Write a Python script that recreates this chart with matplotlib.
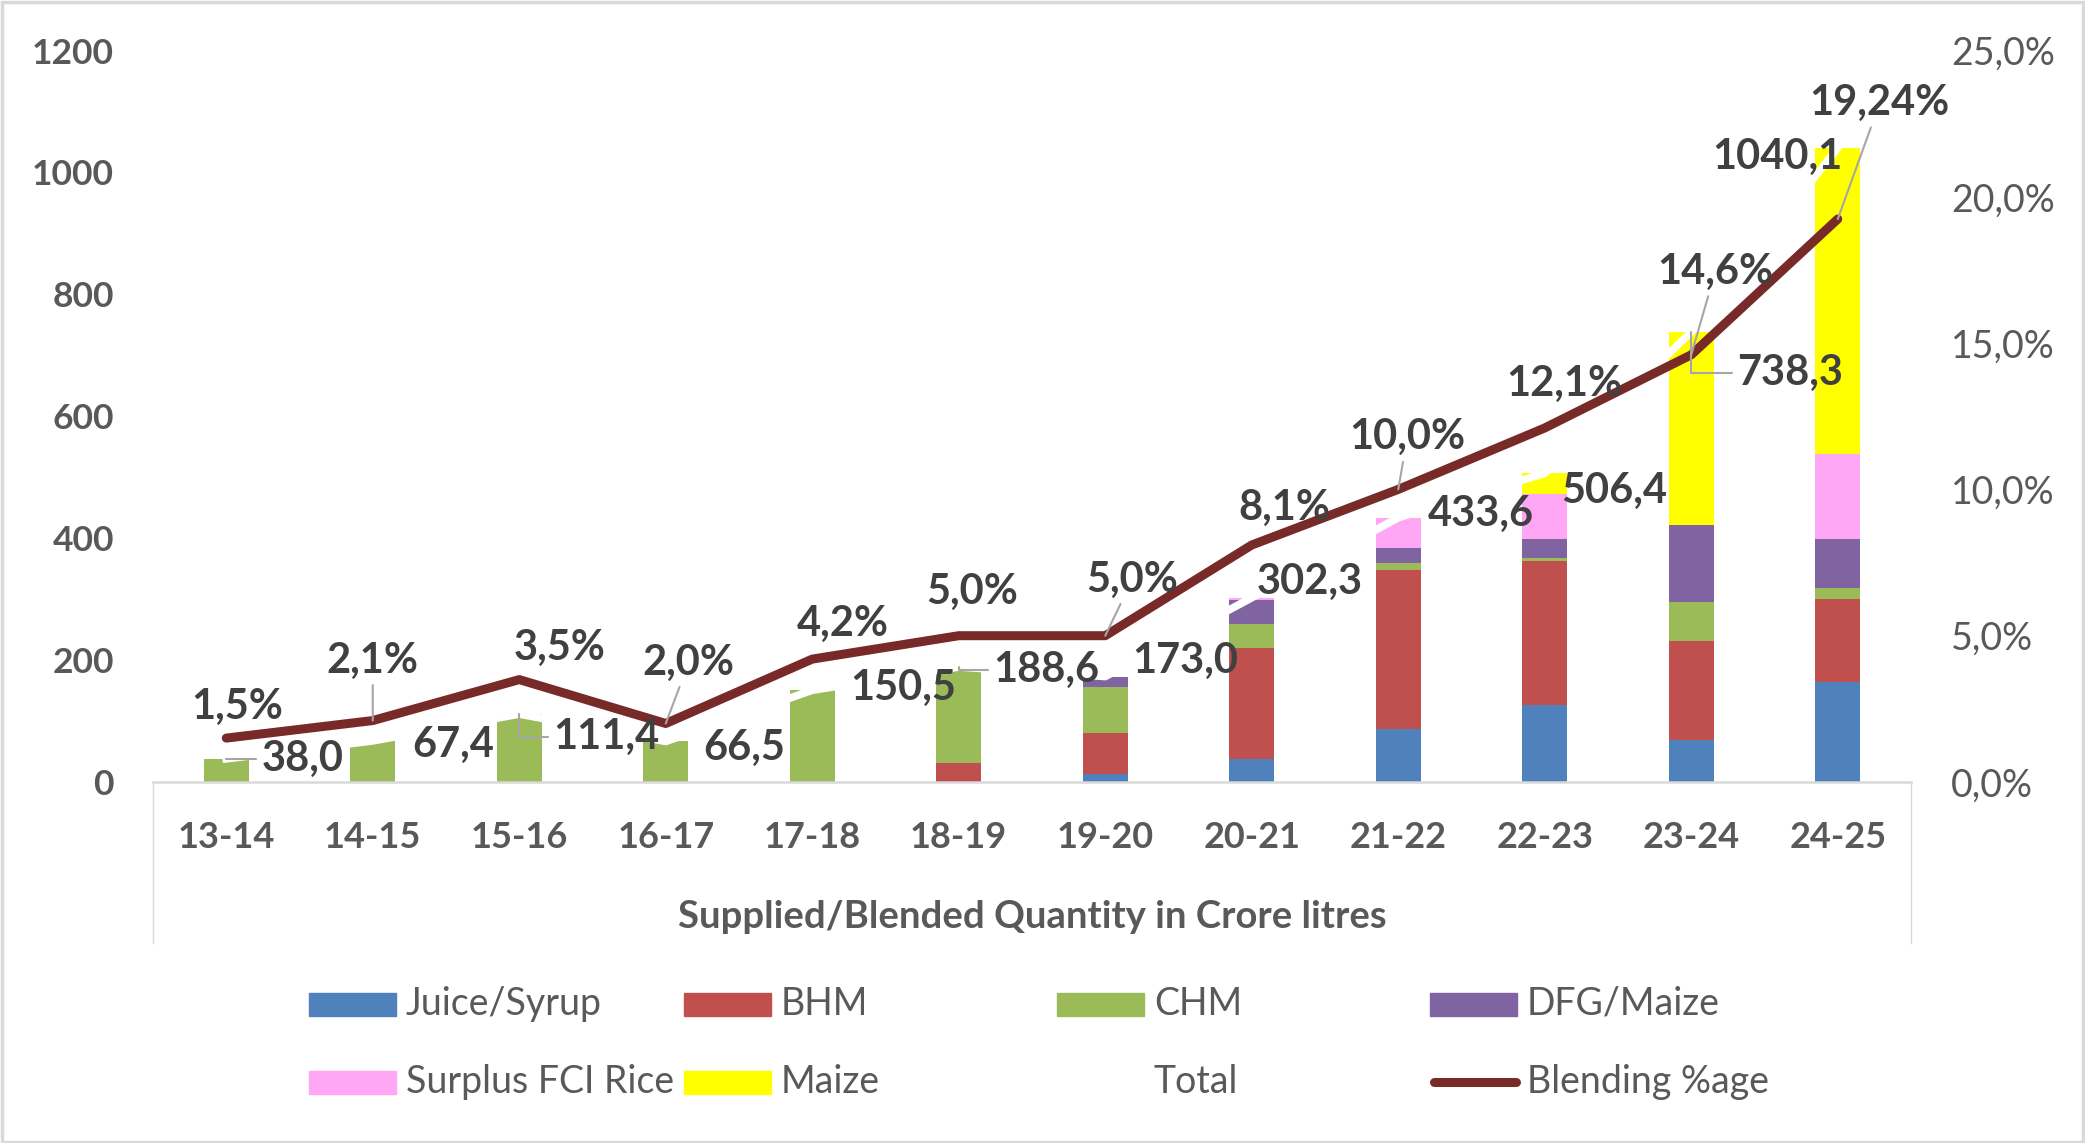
import matplotlib
matplotlib.use("Agg")
import matplotlib.pyplot as plt
import numpy as np
from matplotlib.lines import Line2D
from matplotlib.patches import Rectangle

plt.rcParams["font.family"] = ["Lato", "DejaVu Sans"]

years = ["13-14", "14-15", "15-16", "16-17", "17-18", "18-19",
         "19-20", "20-21", "21-22", "22-23", "23-24", "24-25"]

juice_syrup = [0, 0, 0, 0, 0, 0, 13.5, 38, 87, 126, 69, 164]
bhm = [0, 0, 0, 0, 0, 31, 67, 182, 260, 236, 162, 137]
chm = [38.0, 67.4, 111.4, 66.5, 150.5, 156, 75.5, 39, 12, 5, 64, 18]
dfg_maize = [0, 0, 0, 0, 0, 1.6, 17, 40, 25, 31, 126, 80]
fci_rice = [0, 0, 0, 0, 0, 0, 0, 3.3, 49.6, 74, 0, 139]
maize = [0, 0, 0, 0, 0, 0, 0, 0, 0, 34.4, 317.3, 502.1]
totals = [38.0, 67.4, 111.4, 66.5, 150.5, 188.6, 173.0, 302.3, 433.6, 506.4, 738.3, 1040.1]
blending_pct = [1.5, 2.1, 3.5, 2.0, 4.2, 5.0, 5.0, 8.1, 10.0, 12.1, 14.6, 19.24]

series = [
    ("Juice/Syrup", juice_syrup, "#4f81bd"),
    ("BHM", bhm, "#c0504d"),
    ("CHM", chm, "#9bbb59"),
    ("DFG/Maize", dfg_maize, "#8064a2"),
    ("Surplus FCI Rice", fci_rice, "#ffa7f5"),
    ("Maize", maize, "#ffff00"),
]
LINE_COLOR = "#772a28"
LABEL_COLOR = "#404040"
TICK_COLOR = "#595959"
GRID_GRAY = "#d9d9d9"
LEADER_GRAY = "#a6a6a6"

W, H = 2085, 1143


def fx(px):
    return px / W


def fy(py):
    return 1 - py / H


fig = plt.figure(figsize=(W / 100, H / 100), dpi=100)
ax = fig.add_axes([fx(153), fy(782), fx(1911) - fx(153), fy(50.5) - fy(782)])

x = np.arange(len(years))
bottom = np.zeros(len(years))
for name, vals, color in series:
    ax.bar(x, vals, 0.31, bottom=bottom, color=color, zorder=2)
    bottom += np.array(vals)

# the invisible "Total" series is a white line over the bar tops
ax.plot(x, totals, color="white", lw=5.5, zorder=3)

ax.set_xlim(-0.5, len(years) - 0.5)
ax.set_ylim(0, 1200)
ax.set_yticks(range(0, 1201, 200), labels=[str(v) for v in range(0, 1201, 200)],
              fontweight="bold")
ax.set_xticks(x, labels=years, fontweight="bold")
ax.tick_params(axis="y", length=0, pad=28, labelsize=25.5, labelcolor=TICK_COLOR)
ax.tick_params(axis="x", length=0, pad=28, labelsize=26, labelcolor=TICK_COLOR)
for side in ["left", "right", "top"]:
    ax.spines[side].set_visible(False)
ax.spines["bottom"].set_color(GRID_GRAY)
ax.spines["bottom"].set_linewidth(1.8)
ax.spines["bottom"].set_zorder(4)

xl = ax.set_xlabel("Supplied/Blended Quantity in Crore litres", fontsize=27.5,
                   fontweight="bold", color=TICK_COLOR)
xl.set_va("center")
ax.xaxis.set_label_coords(0.5, -0.1846)

ax2 = ax.twinx()
ax2.plot(x, [v / 100 for v in blending_pct], color=LINE_COLOR, lw=6.5,
         solid_capstyle="round", solid_joinstyle="round", zorder=3)
ax2.set_ylim(0, 0.25)
pct_ticks = [0, 0.05, 0.10, 0.15, 0.20, 0.25]
ax2.set_yticks(pct_ticks, labels=[f"{t * 100:.1f}%".replace(".", ",") for t in pct_ticks])
ax2.tick_params(axis="y", length=0, pad=29, labelsize=27, labelcolor=TICK_COLOR)
for side in ax2.spines:
    ax2.spines[side].set_visible(False)

# label offsets in pixels (dx, dy up) and whether a leader line is drawn
pct_offsets = [(11, 31), (0, 60), (40, 32), (23, 61), (31, 35), (13, 44),
               (27, 56), (33, 37), (9, 52), (20, 44), (24, 83), (42, 116)]
pct_leader = [False, True, False, True, False, False, True, False, True, False, True, True]
for i, v in enumerate(blending_pct):
    txt = (f"{v:.2f}%" if i == len(blending_pct) - 1 else f"{v:.1f}%").replace(".", ",")
    dx, dy = pct_offsets[i]
    arrow = dict(arrowstyle="-", color=LEADER_GRAY, lw=1.5, shrinkA=2, shrinkB=0) if pct_leader[i] else None
    ax2.annotate(txt, (i, v / 100), xytext=(dx, dy), textcoords="offset pixels",
                 ha="center", va="center", fontsize=30, fontweight="bold",
                 color=LABEL_COLOR, arrowprops=arrow, zorder=6)

tot_offsets = [(76, 0), (80, -4), (87, -23), (78, -6), (91, 2), (88, -3),
               (80, 16), (58, 16), (83, 4), (69, -18), (99, -41), (-60, -9)]
tot_leader = [True, False, True, False, False, True, False, False, False, False, True, False]
for i, v in enumerate(totals):
    dx, dy = tot_offsets[i]
    arrow = dict(arrowstyle="-", color=LEADER_GRAY, lw=1.5, shrinkA=2, shrinkB=0,
                 connectionstyle="angle,angleA=0,angleB=90,rad=0") if tot_leader[i] else None
    ax2.annotate(f"{v:.1f}".replace(".", ","), (i, v / 1200 * 0.25), xytext=(dx, dy),
                 textcoords="offset pixels", ha="center", va="center", fontsize=30,
                 fontweight="bold", color=LABEL_COLOR, arrowprops=arrow, zorder=6)

# frame lines below the category axis
for px in (153, 1911):
    fig.add_artist(Line2D([fx(px), fx(px)], [fy(782), fy(943)], color=GRID_GRAY, lw=1))
fig.add_artist(Rectangle((0.001, 0.001), 0.998, 0.997, transform=fig.transFigure,
                         fill=False, ec=GRID_GRAY, lw=2.5))

# legend, four columns
col_x = [309, 684, 1057, 1430]
row_y = [1004, 1082]
entries = [(name, "patch", color) for name, _, color in series]
entries += [("Total", "none", None), ("Blending %age", "line", LINE_COLOR)]
for k, (name, kind, color) in enumerate(entries):
    cx = col_x[k % 4]
    cy = row_y[k // 4]
    if kind == "patch":
        fig.add_artist(Rectangle((fx(cx), fy(cy + 11.5)), 87 / W, 23 / H,
                                 transform=fig.transFigure, color=color))
    elif kind == "line":
        fig.add_artist(Line2D([fx(cx + 4), fx(cx + 86)], [fy(cy), fy(cy)], color=color,
                              lw=6.5, solid_capstyle="round"))
    fig.text(fx(cx + 97), fy(cy), name, fontsize=27, color=TICK_COLOR,
             ha="left", va="center")

fig.savefig("out.png", dpi=100)
